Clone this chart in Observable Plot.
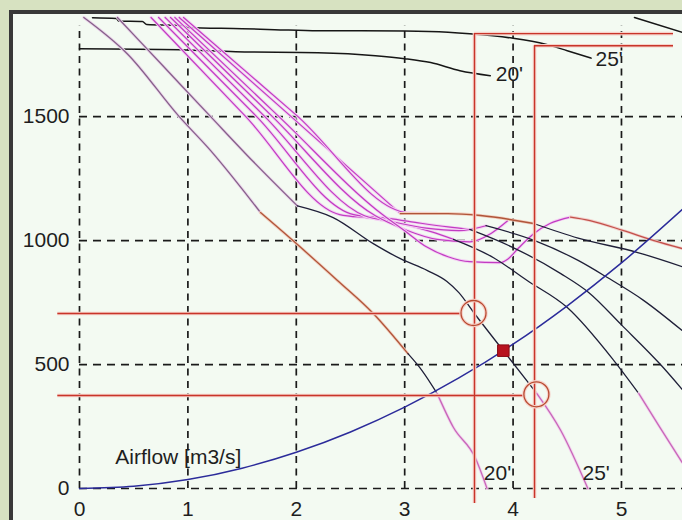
<!DOCTYPE html>
<html><head><meta charset="utf-8">
<script src="https://cdn.jsdelivr.net/npm/d3@7"></script>
<script src="https://cdn.jsdelivr.net/npm/@observablehq/plot@0.6"></script>
<style>
html,body{margin:0;padding:0;background:#d7e2c1;}
#wrap{position:relative;width:682px;height:520px;overflow:hidden;}
#panel{position:absolute;left:9px;top:10px;width:700px;height:600px;border:4px solid #383838;background:#f3faf2;}
#chart{position:absolute;left:0;top:0;}
</style></head><body>
<div id="wrap"><div id="panel"></div><div id="chart"></div></div>
<script>
// ---- axis ticks ----
const xTicks = [0, 1, 2, 3, 4, 5];
const yTicks = [0, 500, 1000, 1500];

// ---- top (black) curves ----
const top25 = [[0.12,1899],[0.34,1896],[0.36,1886],[0.58,1884],[0.62,1872],[0.95,1868],[1.0,1860],[1.5,1855],[1.8,1851],[2.2,1846],[2.6,1846],[3.0,1845],[3.4,1840],[3.6,1834],[4.0,1816],[4.3,1792],[4.5,1766],[4.72,1736]];
const top20 = [[0,1774],[0.93,1770],[1.44,1762],[2.2,1758],[2.73,1746],[3.0,1734],[3.24,1718],[3.51,1685],[3.79,1665]];
const top30 = [[5.12,1900],[5.56,1840]];

// ---- curve 1 ----
const c1Unstable = [[0.04,1900],[0.44,1754],[0.92,1500],[1.21,1363],[1.49,1214],[1.67,1113]];
const c1Mid = [[1.67,1113],[1.99,992],[2.38,839],[2.71,706],[3.03,544]];
const c1Stable = [[3.03,544],[3.16,476],[3.30,383]];
const c1Overload = [[3.30,383],[3.45,246],[3.65,125],[3.76,0]];

// ---- curve 2 ----
const c2Unstable = [[0.35,1900],[0.78,1700],[1.21,1500],[1.6,1320],[2.01,1140]];
const c2Stable = [[2.01,1140],[2.34,1093],[2.71,988],[2.96,927],[3.21,879],[3.39,835],[3.5,790],[3.64,708],[3.91,556],[4.22,383]];
const c2Overload = [[4.22,383],[4.44,234],[4.69,0]];

// ---- curves 3..9 (unstable parts) ----
const m3 = [[0.66,1900],[1.53,1502],[2.40,1105],[2.7,1090],[3.0,1065],[3.25,1035],[3.45,1005]];
const m4 = [[0.73,1900],[1.63,1502],[2.53,1105],[2.85,1090],[3.15,1070],[3.4,1055],[3.6,1045]];
const m5 = [[0.79,1900],[1.71,1500],[2.63,1100],[2.9,1075],[3.2,1050],[3.5,1040],[3.75,1060]];
const m6 = [[0.84,1900],[1.78,1500],[2.73,1100],[3.0,1045],[3.3,1005],[3.6,995],[3.8,1030],[3.95,1080]];
const m7 = [[0.88,1900],[1.84,1500],[2.81,1100],[3.0,1040],[3.2,975],[3.4,935],[3.6,915],[3.88,911],[3.95,925],[4.05,970],[4.19,1028],[4.34,1069],[4.53,1095]];
const m8 = [[0.92,1900],[1.94,1505],[2.96,1109]];
const m9 = [[0.96,1900],[2.00,1506],[3.04,1112],[3.3,1110]];

// ---- stable / other parts ----
const k3 = [[3.45,1005],[3.82,931],[4.13,839],[4.50,730],[4.93,516],[5.16,383]];
const k3Overload = [[5.16,383],[5.35,250],[5.56,105]];
const k4 = [[3.6,1045],[4.0,972],[4.44,867],[4.70,790],[5.0,660],[5.36,500],[5.56,400]];
const k5 = [[3.75,1060],[4.20,1000],[4.60,920],[4.87,851],[5.20,760],[5.56,637]];
const r7 = [[4.53,1095],[4.71,1081],[5.02,1040],[5.30,1000],[5.56,968]];
const r8 = [[2.96,1109],[3.4,1109],[3.7,1101],[4.19,1069]];
const k8 = [[4.19,1069],[4.6,1010],[5.15,952],[5.56,895]];

// ---- system curve ----
const systemCurve = [[0,0],[0.5,9],[1,36],[1.5,82],[2,146],[2.5,228],[3,328],[3.5,446],[4,582],[4.5,737],[5,910],[5.56,1125]];

// ---- operating points / reading lines ----
const opPoints = [[3.635,708],[4.215,380]];
const dutyPoint = [[3.91,556]];
const readX = [3.644, 4.198];
const readTopY = [1835, 1786];
const readBottomY = [-60, -40];
const readLeftY = [706, 375];
const readLeftEnd = [3.515, 4.096];
const readXLeft = -0.2, readXRight = 5.48;

// ---- labels ----
const curveLabels = [
  {text: "20'", x: 3.73, y: 62},
  {text: "25'", x: 4.64, y: 62},
  {text: "20'", x: 3.84, y: 1669},
  {text: "25'", x: 4.76, y: 1730}
];
const axisLabel = [{text: "Airflow [m3/s]", x: 0.33, y: 125}];

// scale extents (pixel frame)
const xMin = -0.7288, xMax = 5.563, yMin = -129, yMax = 1968.5, gridTop = 1867;

const FONT = "'Liberation Sans', Arial, sans-serif";
const red = "#c8352a", redHalo = "#f6d2ca";
const mag = "#c23cc2", magHalo = "#f3d2f3";
const mute = "#86608a";
const blk = "#1f1f38";
const pink = "#c868b9";
const brown = "#b0553a";
const blue = "#2b2b9a";

const X = d => d[0], Y = d => d[1];
function seg(data, stroke, w, halo, hw) {
  const out = [];
  if (halo) out.push(Plot.line(data, {x: X, y: Y, stroke: halo, strokeWidth: hw, curve: "monotone-x", strokeLinejoin: "round"}));
  out.push(Plot.line(data, {x: X, y: Y, stroke, strokeWidth: w, curve: "monotone-x", strokeLinejoin: "round"}));
  return out;
}

const idx = [0, 1];
const marks = [
  // grid
  Plot.ruleX(xTicks, {x: d => d, y1: 0, y2: gridTop, stroke: "#1a1a1a", strokeWidth: 1.7, strokeDasharray: "7,5.5"}),
  Plot.ruleY(yTicks, {y: d => d, x1: 0, x2: xMax, stroke: "#1a1a1a", strokeWidth: 1.7, strokeDasharray: "8,6"}),
  // tick labels
  Plot.text(xTicks, {x: d => d, y: 0, dy: 21, text: d => String(d), fontSize: 21, fill: "#1e1e1e", fontFamily: FONT}),
  Plot.text(yTicks, {x: 0, y: d => d, dx: -10, textAnchor: "end", text: d => String(d), fontSize: 21, fill: "#1e1e1e", fontFamily: FONT}),
  // top black curves
  ...seg(top25, "#161616", 1.5),
  ...seg(top20, "#161616", 1.5),
  ...seg(top30, "#161616", 1.5),
  // magenta unstable curves
  ...[m3, m4, m5, m6, m7, m8, m9].flatMap(m => seg(m, mag, 1.2, magHalo, 3)),
  // curve 1
  ...seg(c1Unstable, mute, 1.3, "#ead6ea", 3),
  ...seg(c1Mid, brown, 1.3, "#f2d0c0", 3),
  ...seg(c1Stable, blk, 1.3),
  ...seg(c1Overload, pink, 1.3, "#f2d4ee", 3),
  // curve 2
  ...seg(c2Unstable, mute, 1.3, "#ead6ea", 3),
  ...seg(c2Stable, blk, 1.3),
  ...seg(c2Overload, pink, 1.3, "#f2d4ee", 3),
  // right side stable curves
  ...seg(k3, blk, 1.3),
  ...seg(k3Overload, pink, 1.3, "#f2d4ee", 3),
  ...seg(k4, blk, 1.3),
  ...seg(k5, blk, 1.3),
  ...seg(r8, brown, 1.4, "#f2d0c0", 3),
  ...seg(k8, blk, 1.3),
  ...seg(r7, "#c2504a", 1.3, "#f2d0cc", 3),
  // system curve
  ...seg(systemCurve, blue, 1.5),
  // reading lines
  Plot.ruleX(idx, {x: i => readX[i], y1: i => readBottomY[i], y2: i => readTopY[i], stroke: redHalo, strokeWidth: 3.6}),
  Plot.ruleY(idx, {y: i => readLeftY[i], x1: readXLeft, x2: i => readLeftEnd[i], stroke: redHalo, strokeWidth: 3.6}),
  Plot.ruleY(idx, {y: i => readTopY[i], x1: i => readX[i], x2: readXRight, stroke: redHalo, strokeWidth: 3.6}),
  Plot.ruleX(idx, {x: i => readX[i], y1: i => readBottomY[i], y2: i => readTopY[i], stroke: red, strokeWidth: 1.4}),
  Plot.ruleY(idx, {y: i => readLeftY[i], x1: readXLeft, x2: i => readLeftEnd[i], stroke: red, strokeWidth: 1.4}),
  Plot.ruleY(idx, {y: i => readTopY[i], x1: i => readX[i], x2: readXRight, stroke: red, strokeWidth: 1.4}),
  // operating point circles
  Plot.dot(opPoints, {x: X, y: Y, r: 12.5, stroke: redHalo, strokeWidth: 3.5, fill: "none"}),
  Plot.dot(opPoints, {x: X, y: Y, r: 12.5, stroke: "#b84a30", strokeWidth: 1.3, fill: "none"}),
  // duty point
  Plot.dot(dutyPoint, {x: X, y: Y, symbol: "square", r: 6.5, fill: "#b8121e", stroke: "#8a0a14", strokeWidth: 1}),
  // labels
  Plot.text(curveLabels, {x: "x", y: "y", text: "text", textAnchor: "start", fontSize: 21, fill: "#1e1e1e", fontFamily: FONT}),
  Plot.text(axisLabel, {x: "x", y: "y", text: "text", textAnchor: "start", fontSize: 21, fill: "#1e1e1e", fontFamily: FONT})
];

const chart = Plot.plot({
  width: 682,
  height: 520,
  margin: 0,
  x: {domain: [xMin, xMax], axis: null},
  y: {domain: [yMin, yMax], axis: null},
  style: {background: "transparent", overflow: "visible"},
  marks
});
document.getElementById("chart").appendChild(chart);
</script>
</body></html>
